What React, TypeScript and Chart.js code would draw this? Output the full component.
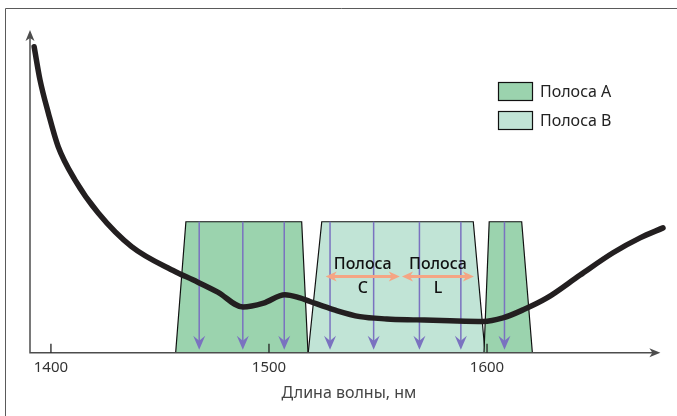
import React, { useEffect, useRef } from "react";
import { Chart, registerables } from "chart.js";

Chart.register(...registerables);

// ---- data ----
const CURVE_NM = [1392.3, 1395.0, 1398.8, 1403.3, 1411.0, 1421.7, 1437.0, 1456.9, 1465.1, 1476.5, 1488.1, 1497.5, 1507.3, 1514.2, 1518.8, 1530.0, 1541.7, 1554.0, 1567.9, 1583.0, 1598.2, 1607.3, 1616.5, 1627.5, 1642.7, 1657.8, 1670.2, 1680.7];
const CURVE_VAL = [94.8, 84.5, 74.3, 63.9, 53.6, 43.3, 32.9, 25.2, 22.6, 18.8, 14.2, 15.4, 18.0, 17.0, 15.9, 13.3, 11.2, 10.5, 10.2, 9.9, 9.7, 10.8, 13.3, 17.0, 24.1, 31.0, 35.6, 38.7];

const BAND_TOP = 40.6;
const BAND_A1_NM = [1457.2, 1461.9, 1515.0, 1517.9];
const BAND_B_NM = [1518.0, 1524.2, 1593.7, 1599.1];
const BAND_A2_NM = [1598.6, 1601.0, 1615.9, 1620.8];
const BAND_VALS = [0, BAND_TOP, BAND_TOP, 0];

const CHANNEL_NM = [1468, 1488, 1507, 1528, 1548, 1569, 1588, 1608];

const SUBBAND_LABELS = ["C", "L"];
const SUBBAND_FROM = [1526, 1561];
const SUBBAND_TO = [1560, 1594];
const SUBBAND_Y = 23.6;

const X_TICKS = [1400, 1500, 1600];
const X_MIN = 1390.4;
const X_MAX = 1683;
const X_ARROW_END = 1679.5;
const Y_MIN = 0;
const Y_MAX = 100;

const LEGEND_LABELS = ["Полоса A", "Полоса B"];
const X_TITLE = "Длина волны, нм";
const SUB_WORD = "Полоса";

const COL_A = "#9bd3ae";
const COL_B = "#c1e4d6";
const COL_CURVE = "#231f20";
const COL_CHANNEL = "#7a72c0";
const COL_ORANGE = "#f5a584";
const COL_AXIS = "#4d4d4d";
const FONT = "'Noto Sans', sans-serif";

const toPts = (xs: number[], ys: number[]) => xs.map((x, i) => ({ x, y: ys[i] }));

const drawPlugin = {
  id: "decor",
  beforeDraw(chart: any) {
    const ctx = chart.ctx;
    ctx.save();
    ctx.strokeStyle = "#5a5a5a";
    ctx.lineWidth = 1;
    ctx.beginPath();
    ctx.moveTo(5.5, 416);
    ctx.lineTo(5.5, 8.5);
    ctx.lineTo(677, 8.5);
    ctx.stroke();
    ctx.restore();
  },
  beforeDatasetDraw(chart: any, args: any) {
    if (args.index !== 0) return;
    const ctx = chart.ctx;
    const xs = chart.scales.x;
    const ys = chart.scales.y;
    const yTop = ys.getPixelForValue(BAND_TOP);
    const yBot = ys.getPixelForValue(0) - 3;
    ctx.save();
    ctx.strokeStyle = COL_CHANNEL;
    ctx.fillStyle = COL_CHANNEL;
    ctx.lineWidth = 1.5;
    CHANNEL_NM.forEach((nm) => {
      const x = xs.getPixelForValue(nm);
      ctx.beginPath();
      ctx.moveTo(x, yTop);
      ctx.lineTo(x, yBot - 8);
      ctx.stroke();
      ctx.beginPath();
      ctx.moveTo(x, yBot);
      ctx.lineTo(x - 6, yBot - 14);
      ctx.lineTo(x, yBot - 9);
      ctx.lineTo(x + 6, yBot - 14);
      ctx.closePath();
      ctx.fill();
    });
    ctx.restore();
  },
  afterDatasetsDraw(chart: any) {
    const ctx = chart.ctx;
    const xs = chart.scales.x;
    const ys = chart.scales.y;
    const x0 = xs.getPixelForValue(X_MIN);
    const y0 = ys.getPixelForValue(Y_MIN);
    const xEnd = xs.getPixelForValue(X_ARROW_END);
    const yEnd = ys.getPixelForValue(Y_MAX);
    ctx.save();
    ctx.strokeStyle = COL_AXIS;
    ctx.fillStyle = COL_AXIS;
    ctx.lineWidth = 1.5;
    ctx.beginPath();
    ctx.moveTo(x0, yEnd + 6);
    ctx.lineTo(x0, y0);
    ctx.lineTo(xEnd - 6, y0);
    ctx.stroke();
    // arrowheads
    ctx.beginPath();
    ctx.moveTo(xEnd, y0);
    ctx.lineTo(xEnd - 11, y0 - 4.5);
    ctx.lineTo(xEnd - 8, y0);
    ctx.lineTo(xEnd - 11, y0 + 4.5);
    ctx.closePath();
    ctx.fill();
    ctx.beginPath();
    ctx.moveTo(x0, yEnd);
    ctx.lineTo(x0 - 4.5, yEnd + 11);
    ctx.lineTo(x0, yEnd + 8);
    ctx.lineTo(x0 + 4.5, yEnd + 11);
    ctx.closePath();
    ctx.fill();
    // tick marks
    ctx.lineWidth = 1.3;
    ctx.strokeStyle = "#222";
    X_TICKS.forEach((t) => {
      const x = xs.getPixelForValue(t);
      ctx.beginPath();
      ctx.moveTo(x, y0);
      ctx.lineTo(x, y0 - 9);
      ctx.stroke();
    });
    // sub-band arrows
    const ya = ys.getPixelForValue(SUBBAND_Y);
    SUBBAND_LABELS.forEach((lab, i) => {
      const xa = xs.getPixelForValue(SUBBAND_FROM[i]);
      const xb = xs.getPixelForValue(SUBBAND_TO[i]);
      ctx.strokeStyle = COL_ORANGE;
      ctx.fillStyle = COL_ORANGE;
      ctx.lineWidth = 3;
      ctx.beginPath();
      ctx.moveTo(xa + 6, ya);
      ctx.lineTo(xb - 6, ya);
      ctx.stroke();
      [[xa, 1], [xb, -1]].forEach(([x, d]) => {
        ctx.beginPath();
        ctx.moveTo(x, ya);
        ctx.lineTo(x + d * 11, ya - 5);
        ctx.lineTo(x + d * 8, ya);
        ctx.lineTo(x + d * 11, ya + 5);
        ctx.closePath();
        ctx.fill();
      });
      const xm = (xa + xb) / 2;
      ctx.fillStyle = "#111";
      ctx.font = `500 16px ${FONT}`;
      ctx.textAlign = "center";
      ctx.textBaseline = "middle";
      ctx.fillText(SUB_WORD, xm, ya - 12);
      ctx.fillText(lab, xm, ya + 12);
    });
    // legend
    const cols = [COL_A, COL_B];
    LEGEND_LABELS.forEach((lab, i) => {
      const bx = 498.5;
      const by = 82.5 + i * 29;
      ctx.fillStyle = cols[i];
      ctx.fillRect(bx, by, 34, 18);
      ctx.strokeStyle = "#111";
      ctx.lineWidth = 1.2;
      ctx.strokeRect(bx, by, 34, 18);
      ctx.fillStyle = "#222";
      ctx.font = `16px ${FONT}`;
      ctx.textAlign = "left";
      ctx.textBaseline = "middle";
      ctx.fillText(lab, 540, by + 9.5);
    });
    ctx.restore();
  },
};

export default function App() {
  const ref = useRef<HTMLCanvasElement>(null);
  useEffect(() => {
    if (!ref.current) return;
    const bandDs = (nm: number[], color: string, order: number) => ({
      type: "line" as const,
      data: toPts(nm, BAND_VALS),
      borderColor: "#111",
      borderWidth: 1.2,
      backgroundColor: color,
      fill: "origin",
      pointRadius: 0,
      tension: 0,
      order,
    });
    const chart = new Chart(ref.current, {
      type: "line",
      data: {
        datasets: [
          {
            data: toPts(CURVE_NM, CURVE_VAL),
            borderColor: COL_CURVE,
            borderWidth: 5.5,
            borderCapStyle: "round",
            pointRadius: 0,
            cubicInterpolationMode: "monotone",
            fill: false,
            clip: false,
            order: 0,
          } as any,
          bandDs(BAND_A2_NM, COL_A, 10) as any,
          bandDs(BAND_B_NM, COL_B, 11) as any,
          bandDs(BAND_A1_NM, COL_A, 12) as any,
        ],
      },
      options: {
        responsive: false,
        animation: false,
        events: [],
        layout: { padding: { left: 30, right: 9, top: 30, bottom: 13 } },
        plugins: { legend: { display: false }, tooltip: { enabled: false } },
        scales: {
          x: {
            type: "linear",
            min: X_MIN,
            max: X_MAX,
            grid: { display: false, drawTicks: false },
            border: { display: false },
            afterBuildTicks: (s: any) => {
              s.ticks = X_TICKS.map((v) => ({ value: v }));
            },
            ticks: {
              padding: 6,
              color: "#333",
              font: { family: FONT, size: 15 },
              maxRotation: 0,
              callback: (v: any) => String(v),
            },
            title: {
              display: true,
              text: X_TITLE,
              color: "#444",
              font: { family: FONT, size: 16 },
              padding: { top: 1, bottom: 0 },
            },
          },
          y: { type: "linear", display: false, min: Y_MIN, max: Y_MAX },
        },
      },
      plugins: [drawPlugin],
    });
    return () => chart.destroy();
  }, []);
  return (
    <div style={{ position: "fixed", left: 0, top: 0, width: 677, height: 416, background: "#fff" }}>
      <canvas ref={ref} width={677} height={416} style={{ display: "block" }} />
    </div>
  );
}
